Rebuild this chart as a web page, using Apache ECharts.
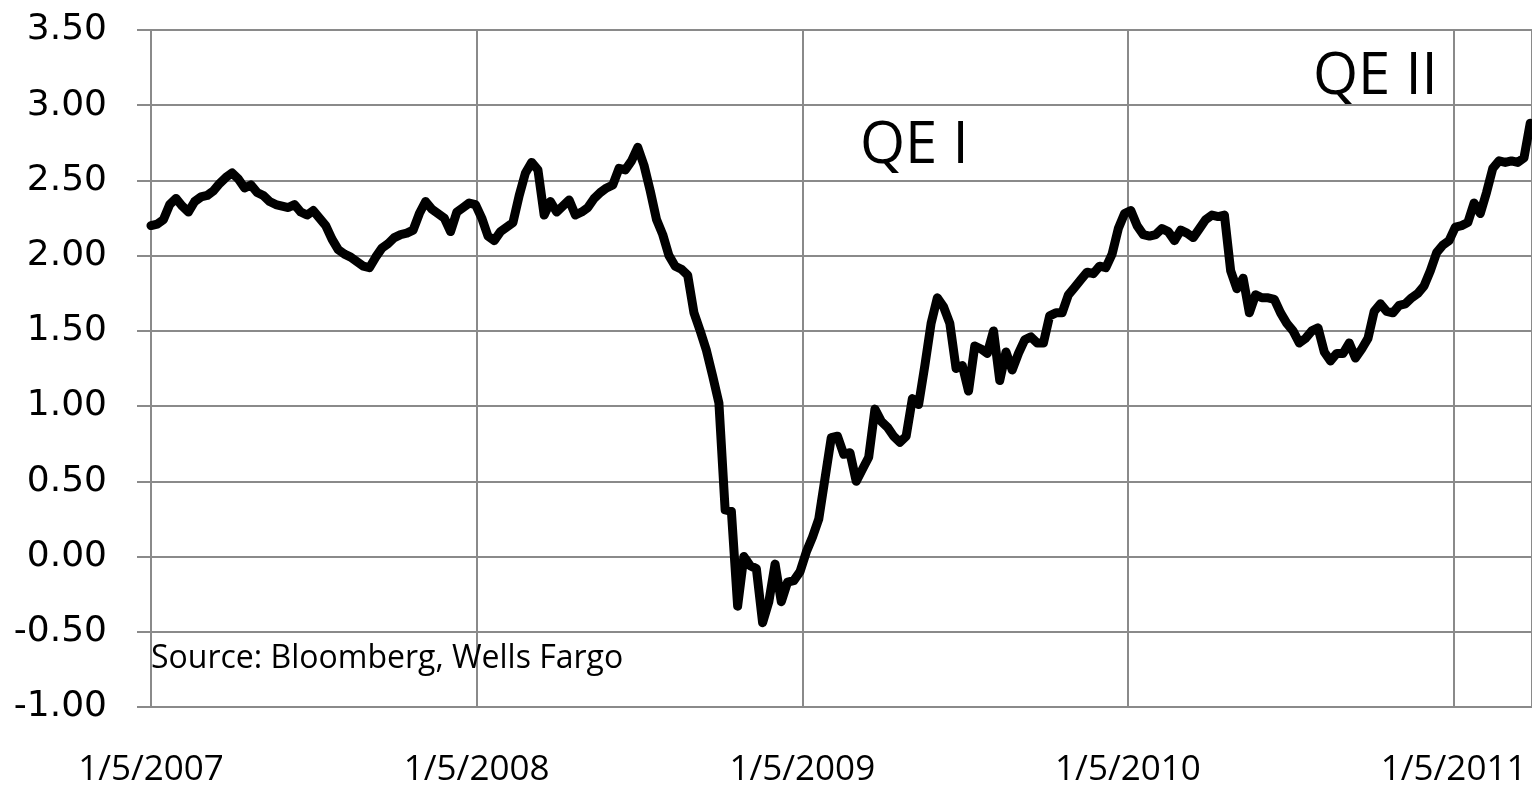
<!DOCTYPE html>
<html>
<head>
<meta charset="utf-8">
<script src="https://cdn.jsdelivr.net/npm/echarts@6/dist/echarts.min.js"></script>
<style>
html,body{margin:0;padding:0;background:#fff;}
#chart{width:1532px;height:786px;}
</style>
</head>
<body>
<div id="chart"></div>
<script>
// Weekly series starting 1/5/2007 (one value per week)
const startYear = 2007;
const tickLabelPrefix = '1/5/';
const yTicks = [-1.0, -0.5, 0, 0.5, 1.0, 1.5, 2.0, 2.5, 3.0, 3.5];
const weeklyValues = [
  2.20,2.21,2.24,2.34,2.38,2.33,2.29,2.36,2.39,2.40,
  2.43,2.48,2.52,2.55,2.51,2.45,2.47,2.42,2.40,2.36,
  2.34,2.33,2.32,2.34,2.29,2.27,2.30,2.25,2.20,2.11,
  2.04,2.01,1.99,1.96,1.93,1.92,1.99,2.05,2.08,2.12,
  2.14,2.15,2.17,2.28,2.36,2.31,2.28,2.25,2.16,2.29,
  2.32,2.35,2.34,2.25,2.13,2.10,2.16,2.19,2.22,2.40,
  2.55,2.62,2.57,2.27,2.36,2.29,2.33,2.37,2.27,2.29,
  2.32,2.38,2.42,2.45,2.47,2.58,2.57,2.63,2.72,2.60,
  2.43,2.24,2.14,2.00,1.93,1.91,1.87,1.62,1.50,1.37,
  1.20,1.02,0.31,0.30,-0.33,0.00,-0.06,-0.08,-0.44,-0.30,
  -0.05,-0.30,-0.17,-0.16,-0.10,0.03,0.13,0.25,0.52,0.79,
  0.80,0.68,0.69,0.50,0.58,0.66,0.98,0.90,0.86,0.80,
  0.76,0.80,1.05,1.01,1.27,1.55,1.72,1.66,1.55,1.25,
  1.27,1.10,1.40,1.38,1.35,1.50,1.17,1.36,1.24,1.35,
  1.44,1.46,1.42,1.42,1.60,1.62,1.62,1.74,1.79,1.84,
  1.89,1.88,1.93,1.92,2.01,2.18,2.28,2.30,2.20,2.14,
  2.13,2.14,2.18,2.16,2.10,2.17,2.15,2.12,2.18,2.24,
  2.27,2.26,2.27,1.90,1.78,1.85,1.62,1.74,1.72,1.72,
  1.71,1.62,1.55,1.50,1.42,1.45,1.50,1.52,1.36,1.30,
  1.35,1.35,1.42,1.32,1.38,1.45,1.63,1.68,1.63,1.62,
  1.67,1.68,1.72,1.75,1.80,1.90,2.02,2.07,2.10,2.19,
  2.20,2.22,2.35,2.28,2.42,2.58,2.63,2.62,2.63,2.62,
  2.65,2.88
];
const annotations = [
  {text: 'QE I', x: 860, y: 145},
  {text: 'QE II', x: 1313, y: 76}
];
const sourceNote = 'Source: Bloomberg, Wells Fargo';

const DAYS_PER_YEAR = 365.25;
const seriesData = weeklyValues.map((v, i) => [i * 7, v]);

const chart = echarts.init(document.getElementById('chart'), null, {renderer: 'canvas'});
const gridColor = '#8a8a8a';
chart.setOption({
  animation: false,
  backgroundColor: '#ffffff',
  grid: {left: 151, right: 0, top: 30, bottom: 79, containLabel: false, outerBoundsMode: 'none'},
  xAxis: {
    type: 'value',
    min: 0,
    max: 1549,
    interval: DAYS_PER_YEAR,
    axisLine: {show: true, lineStyle: {color: gridColor, width: 2}},
    axisTick: {show: false},
    axisLabel: {
      showMaxLabel: false,
      margin: 46,
      fontFamily: 'Open Sans',
      fontSize: 35,
      color: '#000',
      formatter: v => {
        const k = v / DAYS_PER_YEAR;
        if (Math.abs(k - Math.round(k)) > 0.01) return '';
        return tickLabelPrefix + (startYear + Math.round(k));
      }
    },
    splitLine: {show: true, lineStyle: {color: gridColor, width: 2}}
  },
  yAxis: {
    type: 'value',
    min: yTicks[0],
    max: yTicks[yTicks.length - 1],
    interval: 0.5,
    axisLine: {show: true, lineStyle: {color: gridColor, width: 2}},
    axisTick: {show: true, length: 14, lineStyle: {color: gridColor, width: 2}},
    axisLabel: {
      margin: 44,
      fontFamily: 'DejaVu Sans',
      fontSize: 36,
      color: '#000',
      formatter: v => v.toFixed(2)
    },
    splitLine: {show: true, lineStyle: {color: gridColor, width: 2}}
  },
  series: [{
    type: 'line',
    data: seriesData,
    showSymbol: false,
    symbol: 'none',
    smooth: false,
    lineStyle: {color: '#000', width: 9, join: 'round', cap: 'round'}
  }],
  graphic: [
    ...annotations.map(a => ({
      type: 'text', left: a.x, top: a.y - 28, z: 100,
      style: {text: a.text, fontFamily: 'Open Sans', fontSize: 58, fill: '#000'}
    })),
    {
      type: 'text', left: 151, top: 643, z: 100,
      style: {text: sourceNote, fontFamily: 'Open Sans', fontSize: 32, fill: '#000'}
    }
  ]
});
</script>
</body>
</html>
